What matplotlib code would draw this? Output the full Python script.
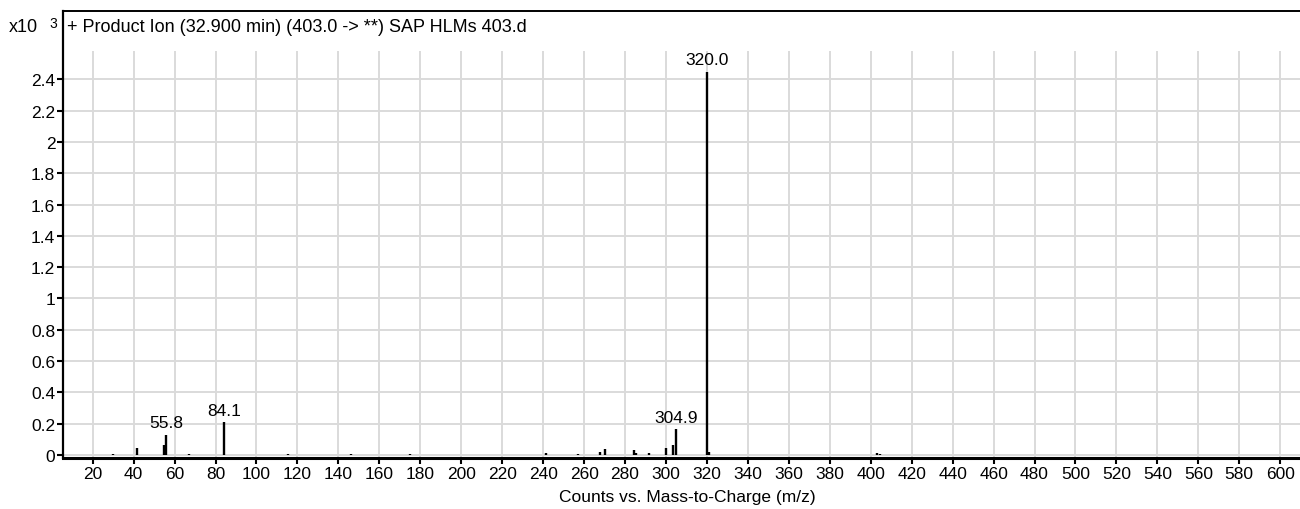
import matplotlib
matplotlib.use("Agg")
import matplotlib.pyplot as plt

plt.rcParams['font.family'] = ['Liberation Sans', 'DejaVu Sans']

# peak list (counts in x10^3)
mz = [30.1, 41.8, 54.6, 55.8, 67.1, 84.1, 115.4, 146.4, 174.9, 241.6, 256.8,
      268.0, 270.2, 284.2, 285.4, 291.8, 300.0, 303.3, 304.9, 320.0, 320.9,
      403.0, 404.5]
counts = [0.006, 0.045, 0.06, 0.13, 0.006, 0.21, 0.006, 0.006, 0.006, 0.014, 0.008,
          0.02, 0.035, 0.03, 0.012, 0.01, 0.045, 0.065, 0.165, 2.45, 0.02,
          0.012, 0.006]

labeled_mz = [55.8, 84.1, 304.9, 320.0]
labeled_counts = [0.13, 0.21, 0.165, 2.45]
labels = ["55.8", "84.1", "304.9", "320.0"]

xticks = list(range(20, 601, 20))
yticks = [0, 0.2, 0.4, 0.6, 0.8, 1, 1.2, 1.4, 1.6, 1.8, 2, 2.2, 2.4]
ytick_labels = ["0", "0.2", "0.4", "0.6", "0.8", "1", "1.2", "1.4", "1.6", "1.8", "2", "2.2", "2.4"]

title = '+ Product Ion (32.900 min) (403.0 -> **) SAP HLMs 403.d'
xlabel = 'Counts vs. Mass-to-Charge (m/z)'

fs = 12.5

fig = plt.figure(figsize=(13, 5.1), dpi=100)
ax = fig.add_axes([63 / 1300, 1 - 459 / 510, 1 - 63 / 1300 + 0.01, (459 - 12) / 510])

xmin, xmax = 5.5, 616
ymin, ymax = -0.02, 2.837
ax.set_xlim(xmin, xmax)
ax.set_ylim(ymin, ymax)

# grid: horizontal lines full width, vertical ones stop below the title strip
for y in yticks:
    ax.axhline(y, color='#dadada', lw=1.4, zorder=0)
ax.vlines(xticks, ymin, 2.58, color='#dadada', lw=1.4, zorder=0)

ax.vlines(mz, 0, counts, color='black', lw=1.7, zorder=3)

for x, y, s in zip(labeled_mz, labeled_counts, labels):
    ax.annotate(s, (x, y), xytext=(0, 3), textcoords='offset points',
                ha='center', va='bottom', fontsize=fs)

ax.set_xticks(xticks)
ax.set_xticklabels([str(v) for v in xticks], fontsize=fs)
ax.set_yticks(yticks)
ax.set_yticklabels(ytick_labels, fontsize=fs)
ax.tick_params(axis='both', direction='out', length=4, width=1.5, color='black', pad=1.5)

ax.spines['left'].set_linewidth(1.6)
ax.spines['bottom'].set_linewidth(2.2)
ax.spines['top'].set_linewidth(1.4)
ax.spines['right'].set_visible(False)

fig.text(67 / 1300, 1 - 27 / 510, title, fontsize=13, va='center', ha='left')
fig.text(9 / 1300, 1 - 28 / 510, 'x10', fontsize=13, va='center', ha='left')
fig.text(49 / 1300, 1 - 24 / 510, '3', fontsize=10, va='center', ha='left')
fig.text(687 / 1300, 1 - 498 / 510, xlabel, fontsize=fs, va='center', ha='center')

fig.savefig('out.png', dpi=100)
